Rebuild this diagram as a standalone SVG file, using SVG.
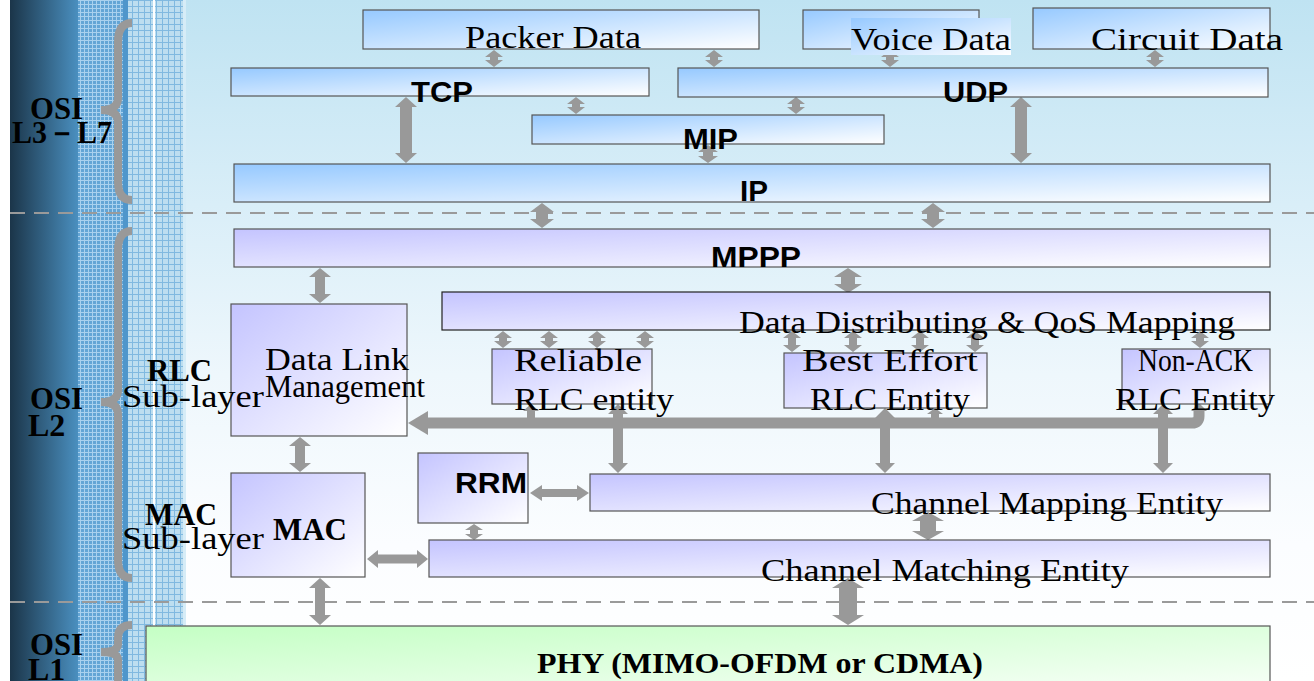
<svg xmlns="http://www.w3.org/2000/svg" width="1314" height="681" viewBox="0 0 1314 681">
<defs>
<linearGradient id="bg" x1="0" y1="0" x2="0" y2="1">
<stop offset="0" stop-color="#bfe3f2"/><stop offset="0.3" stop-color="#d9eef8"/><stop offset="0.55" stop-color="#eef7fc"/><stop offset="0.8" stop-color="#fbfdff"/><stop offset="1" stop-color="#ffffff"/>
</linearGradient>
<linearGradient id="dark" x1="0" y1="0" x2="1" y2="0">
<stop offset="0" stop-color="#1b3549"/><stop offset="1" stop-color="#4a8fbf"/>
</linearGradient>
<linearGradient id="blue" x1="0" y1="0" x2="1" y2="1">
<stop offset="0" stop-color="#96c9ff"/><stop offset="1" stop-color="#ffffff"/>
</linearGradient>
<linearGradient id="purple" x1="0" y1="0" x2="1" y2="1">
<stop offset="0" stop-color="#c4c4ff"/><stop offset="1" stop-color="#ffffff"/>
</linearGradient>
<linearGradient id="green" x1="0" y1="0" x2="1" y2="1">
<stop offset="0" stop-color="#c4ffc4"/><stop offset="1" stop-color="#f6fff6"/>
</linearGradient>
<pattern id="patA" width="4" height="4" patternUnits="userSpaceOnUse">
<rect width="4" height="4" fill="#63a5d5"/><rect width="4" height="1" fill="#a9d1ee"/><rect width="1" height="4" fill="#a9d1ee"/>
</pattern>
<pattern id="patB" width="6" height="6" patternUnits="userSpaceOnUse">
<rect width="6" height="6" fill="#bddef0"/><rect width="6" height="1" fill="#80b9e0"/><rect width="1" height="6" fill="#80b9e0"/>
</pattern>
<style>
.box{stroke:#555;stroke-width:1.2}
.b{fill:url(#blue)}
.p{fill:url(#purple)}
.g{fill:url(#green)}
.mono{font-family:"Liberation Serif","Times New Roman",serif;font-size:31px;fill:#000}
.sans{font-family:"Liberation Sans",Arial,sans-serif;font-weight:bold;font-size:30px;fill:#000}
.serif{font-family:"Liberation Serif","Times New Roman",serif;font-weight:bold;font-size:32px;fill:#000}
.arr{fill:#999999}
.dash{stroke:#9a9a9a;stroke-width:2.2;stroke-dasharray:15 9;fill:none}
.brace{stroke:#999999;stroke-width:8;fill:none;stroke-linecap:butt}
</style>
</defs>

<!-- background -->
<rect x="0" y="0" width="1314" height="681" fill="#ffffff"/>
<rect x="185" y="0" width="1129" height="681" fill="url(#bg)"/>
<rect x="10" y="0" width="68" height="681" fill="url(#dark)"/>
<rect x="78" y="0" width="45" height="681" fill="url(#patA)"/>
<rect x="123" y="0" width="5" height="681" fill="#4f96cb"/>
<rect x="128" y="0" width="57" height="681" fill="url(#patB)"/>
<rect x="153" y="0" width="2" height="681" fill="#ffffff"/>
<rect x="183" y="0" width="3" height="681" fill="#d6ecf7"/>

<g id="dividers">
<line class="dash" x1="10" y1="213" x2="1314" y2="213"/>
<line class="dash" x1="10" y1="602" x2="1314" y2="602"/>
</g>

<g id="braces">
<path class="brace" d="M132,23 Q118,23 118,42 L118,98 Q118,110 101,110 Q118,110 118,122 L118,182 Q118,200 132,200"/>
<path class="brace" d="M132,231 Q118,231 118,250 L118,390 Q118,402 101,402 Q118,402 118,414 L118,560 Q118,578 132,578"/>
<path class="brace" d="M132,625 Q118,625 118,638 L118,644 Q118,652 101,652 Q118,652 118,660 L118,690"/>
</g>

<g id="connectors">
<polygon class="arr" points="494,50 503,57 498,57 498,60 503,60 494,67 485,60 490,60 490,57 485,57"/>
<polygon class="arr" points="714,50 723,57 718,57 718,60 723,60 714,67 705,60 710,60 710,57 705,57"/>
<polygon class="arr" points="890,50 899,57 894,57 894,60 899,60 890,67 881,60 886,60 886,57 881,57"/>
<polygon class="arr" points="1155,50 1164,57 1159,57 1159,60 1164,60 1155,67 1146,60 1151,60 1151,57 1146,57"/>
<polygon class="arr" points="576,97 585,104 580,104 580,107 585,107 576,114 567,107 572,107 572,104 567,104"/>
<polygon class="arr" points="796,97 805,104 800,104 800,107 805,107 796,114 787,107 792,107 792,104 787,104"/>
<polygon class="arr" points="708,145 718,152 713,152 713,156 718,156 708,163 698,156 703,156 703,152 698,152"/>
<polygon class="arr" points="406,97 417,107 412,107 412,153 417,153 406,163 395,153 400,153 400,107 395,107"/>
<polygon class="arr" points="1021,97 1032,107 1027,107 1027,153 1032,153 1021,163 1010,153 1015,153 1015,107 1010,107"/>
<polygon class="arr" points="542,203 554,212 548,212 548,219 554,219 542,228 530,219 536,219 536,212 530,212"/>
<polygon class="arr" points="933,203 945,212 939,212 939,219 945,219 933,228 921,219 927,219 927,212 921,212"/>
<polygon class="arr" points="320,268 331,277 325,277 325,294 331,294 320,303 309,294 315,294 315,277 309,277"/>
<polygon class="arr" points="848,268 862,277 855,277 855,284 862,284 848,293 834,284 841,284 841,277 834,277"/>
<polygon class="arr" points="503,331 512,338 507,338 507,341 512,341 503,348 494,341 499,341 499,338 494,338"/>
<polygon class="arr" points="549,331 558,338 553,338 553,341 558,341 549,348 540,341 545,341 545,338 540,338"/>
<polygon class="arr" points="597,331 606,338 601,338 601,341 606,341 597,348 588,341 593,341 593,338 588,338"/>
<polygon class="arr" points="645,331 654,338 649,338 649,341 654,341 645,348 636,341 641,341 641,338 636,338"/>
<polygon class="arr" points="792,331 801,338 796,338 796,345 801,345 792,352 783,345 788,345 788,338 783,338"/>
<polygon class="arr" points="853,331 862,338 857,338 857,345 862,345 853,352 844,345 849,345 849,338 844,338"/>
<polygon class="arr" points="920,331 929,338 924,338 924,345 929,345 920,352 911,345 916,345 916,338 911,338"/>
<polygon class="arr" points="975,331 984,338 979,338 979,345 984,345 975,352 966,345 971,345 971,338 966,338"/>
<polygon class="arr" points="1200,331 1209,338 1204,338 1204,341 1209,341 1200,348 1191,341 1196,341 1196,338 1191,338"/>
<path d="M1199,410 L1199,416 Q1199,423 1192,423 L426,423" fill="none" stroke="#999999" stroke-width="11" stroke-linejoin="round"/>
<polygon class="arr" points="408,423 428,411 428,435"/>
<polygon class="arr" points="1199,403 1207,411 1191,411"/>
<polygon class="arr" points="531,404 539,411 535,411 535,420 527,420 527,411 523,411"/>
<polygon class="arr" points="935,408 943,414 939,414 939,420 931,420 931,414 927,414"/>
<polygon class="arr" points="618,404 628,414 623,414 623,463 628,463 618,473 608,463 613,463 613,414 608,414"/>
<polygon class="arr" points="885,408 895,418 890,418 890,463 895,463 885,473 875,463 880,463 880,418 875,418"/>
<polygon class="arr" points="1163,404 1173,414 1168,414 1168,463 1173,463 1163,473 1153,463 1158,463 1158,414 1153,414"/>
<polygon class="arr" points="530,493 542,485 542,489 577,489 577,485 589,493 577,501 577,497 542,497 542,501"/>
<polygon class="arr" points="474,524 483,530 478,530 478,534 483,534 474,540 465,534 470,534 470,530 465,530"/>
<polygon class="arr" points="928,512 944,521 936,521 936,531 944,531 928,540 912,531 920,531 920,521 912,521"/>
<polygon class="arr" points="300,437 311,446 305,446 305,463 311,463 300,472 289,463 295,463 295,446 289,446"/>
<polygon class="arr" points="367,559 378,550 378,554.5 417,554.5 417,550 428,559 417,568 417,563.5 378,563.5 378,568"/>
<polygon class="arr" points="320,578 331,588 325,588 325,615 331,615 320,625 309,615 315,615 315,588 309,588"/>
<polygon class="arr" points="848,578 864,588 857,588 857,615 864,615 848,625 832,615 839,615 839,588 832,588"/>
</g>

<g id="packer-data">
<rect class="box b" x="363" y="10" width="396" height="39"/>
<text class="mono" x="465" y="48" textLength="176" lengthAdjust="spacingAndGlyphs">Packer Data</text>
</g>
<g id="voice-data">
<rect class="box b" x="803" y="10" width="176" height="39"/>
<rect x="851" y="18" width="160" height="37" fill="url(#blue)"/>
<text class="mono" x="851" y="50" textLength="160" lengthAdjust="spacingAndGlyphs">Voice Data</text>
</g>
<g id="circuit-data">
<rect class="box b" x="1033" y="8" width="237" height="41"/>
<text class="mono" x="1091" y="50" textLength="192" lengthAdjust="spacingAndGlyphs">Circuit Data</text>
</g>
<g id="tcp">
<rect class="box b" x="231" y="68" width="418" height="28"/>
<text class="sans" x="411" y="102" textLength="62" lengthAdjust="spacingAndGlyphs">TCP</text>
</g>
<g id="udp">
<rect class="box b" x="678" y="68" width="590" height="29"/>
<text class="sans" x="943" y="102" textLength="65" lengthAdjust="spacingAndGlyphs">UDP</text>
</g>
<g id="mip">
<rect class="box b" x="532" y="115" width="352" height="29"/>
<text class="sans" x="683" y="149" textLength="55" lengthAdjust="spacingAndGlyphs">MIP</text>
</g>
<g id="ip">
<rect class="box b" x="234" y="164" width="1036" height="38"/>
<text class="sans" x="740" y="201" textLength="28" lengthAdjust="spacingAndGlyphs">IP</text>
</g>
<g id="mppp">
<rect class="box p" x="234" y="229" width="1036" height="38"/>
<text class="sans" x="711" y="267" textLength="90" lengthAdjust="spacingAndGlyphs">MPPP</text>
</g>
<g id="data-distributing">
<rect class="box p" x="442" y="292" width="828" height="38" style="stroke:#222"/>
<text class="mono" x="739" y="333" textLength="496" lengthAdjust="spacingAndGlyphs">Data Distributing &amp; QoS Mapping</text>
</g>
<g id="data-link-management">
<rect class="box p" x="231" y="304" width="176" height="132"/>
<text class="mono" x="265" y="370" textLength="144" lengthAdjust="spacingAndGlyphs">Data Link</text>
<text class="mono" x="265" y="397" textLength="160" lengthAdjust="spacingAndGlyphs">Management</text>
</g>
<g id="reliable-rlc">
<rect class="box p" x="492" y="349" width="160" height="55"/>
<text class="mono" x="514" y="371" textLength="128" lengthAdjust="spacingAndGlyphs">Reliable</text>
<text class="mono" x="514" y="410" textLength="160" lengthAdjust="spacingAndGlyphs">RLC entity</text>
</g>
<g id="best-effort-rlc">
<rect class="box p" x="784" y="353" width="203" height="55"/>
<text class="mono" x="802" y="371" textLength="176" lengthAdjust="spacingAndGlyphs">Best Effort</text>
<text class="mono" x="810" y="410" textLength="160" lengthAdjust="spacingAndGlyphs">RLC Entity</text>
</g>
<g id="non-ack-rlc">
<rect class="box p" x="1122" y="349" width="148" height="55"/>
<text class="mono" x="1138" y="371" textLength="115" lengthAdjust="spacingAndGlyphs">Non-ACK</text>
<text class="mono" x="1115" y="410" textLength="160" lengthAdjust="spacingAndGlyphs">RLC Entity</text>
</g>
<g id="rrm">
<rect class="box p" x="418" y="453" width="110" height="70"/>
<text class="sans" x="455" y="493" textLength="72" lengthAdjust="spacingAndGlyphs">RRM</text>
</g>
<g id="channel-mapping">
<rect class="box p" x="590" y="474" width="680" height="37"/>
<text class="mono" x="871" y="514" textLength="352" lengthAdjust="spacingAndGlyphs">Channel Mapping Entity</text>
</g>
<g id="mac">
<rect class="box p" x="231" y="473" width="134" height="104"/>
<text class="serif" x="273" y="540" textLength="74" lengthAdjust="spacingAndGlyphs">MAC</text>
</g>
<g id="channel-matching">
<rect class="box p" x="429" y="540" width="841" height="37"/>
<text class="mono" x="761" y="581" textLength="368" lengthAdjust="spacingAndGlyphs">Channel Matching Entity</text>
</g>
<g id="phy">
<rect class="box g" x="146" y="626" width="1124" height="60"/>
<text class="serif" x="537" y="673" textLength="446" lengthAdjust="spacingAndGlyphs" style="font-size:30px">PHY (MIMO-OFDM or CDMA)</text>
</g>

<g id="layer-labels">
<text class="serif" x="30" y="119" textLength="53" lengthAdjust="spacingAndGlyphs">OSI</text>
<text class="serif" x="12" y="143" textLength="100" lengthAdjust="spacingAndGlyphs">L3－L7</text>
<text class="serif" x="30" y="409" textLength="53" lengthAdjust="spacingAndGlyphs">OSI</text>
<text class="serif" x="28" y="436">L2</text>
<text class="serif" x="30" y="655" textLength="53" lengthAdjust="spacingAndGlyphs">OSI</text>
<text class="serif" x="28" y="680">L1</text>
<text class="serif" x="147" y="381" textLength="65" lengthAdjust="spacingAndGlyphs">RLC</text>
<text class="mono" x="122" y="407" textLength="142" lengthAdjust="spacingAndGlyphs">Sub-layer</text>
<text class="serif" x="145" y="525" textLength="72" lengthAdjust="spacingAndGlyphs">MAC</text>
<text class="mono" x="122" y="549" textLength="142" lengthAdjust="spacingAndGlyphs">Sub-layer</text>
</g>
</svg>
